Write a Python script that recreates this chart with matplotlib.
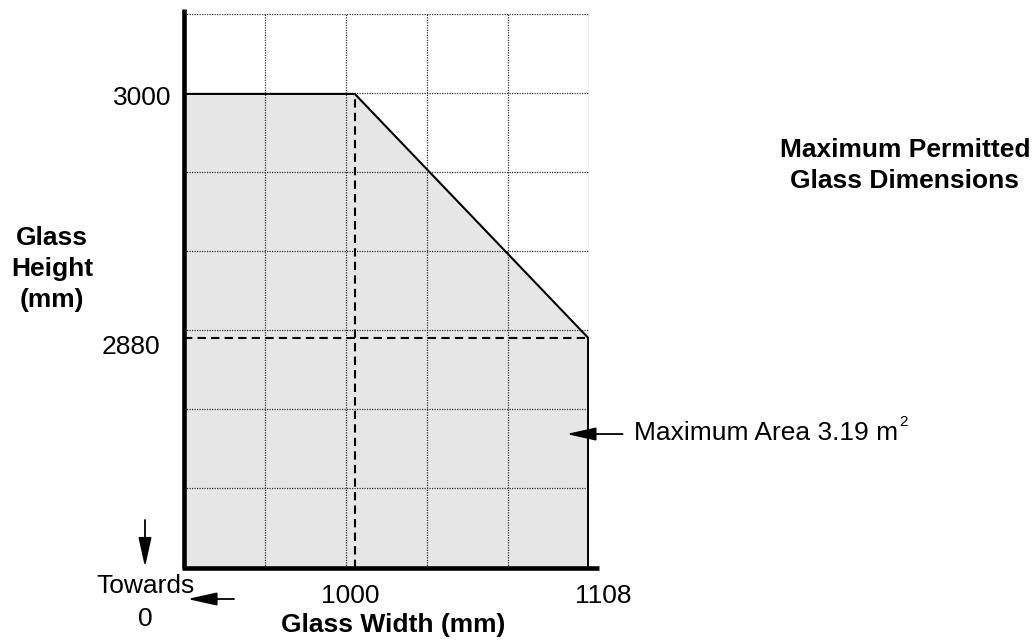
import matplotlib
matplotlib.use("Agg")
import matplotlib.pyplot as plt
from matplotlib.patches import FancyArrowPatch
import numpy as np

plt.rcParams['font.family'] = ['Liberation Sans', 'DejaVu Sans']

# glass size limits (mm)
width_break = 1000      # width where the height starts to drop
width_max = 1108
height_max = 3000
height_at_width_max = 2880
max_area = 3.19         # m2

# visible window of the chart (broken axes, "towards 0")
x_lo, x_hi = 920.9, 1108.2
y_lo, y_hi = 2766.9, 3039.2

W, H = 1035, 641


def px(x, y):
    # figure pixel (from top-left) -> figure fraction
    return x / W, 1 - y / H


fig = plt.figure(figsize=(W / 100, H / 100), dpi=100)
left, top = px(184, 14.3)
right, bottom = px(588.5, 567.5)
ax = fig.add_axes([left, bottom, right - left, top - bottom])
ax.set_xlim(x_lo, x_hi)
ax.set_ylim(y_lo, y_hi)

# grid
ax.set_xticks(np.linspace(x_lo, x_hi, 6))
ax.set_yticks(np.linspace(y_lo, y_hi, 8))
ax.grid(True, color='#333333', lw=0.9, linestyle=(0, (1, 1)))
ax.set_axisbelow(False)
ax.tick_params(length=0, labelbottom=False, labelleft=False)
for s in ax.spines.values():
    s.set_visible(False)

# permitted region
poly_x = [x_lo, x_lo, width_break, width_max, width_max]
poly_y = [y_lo, height_max, height_max, height_at_width_max, y_lo]
ax.fill(poly_x, poly_y, color='#e6e6e6', lw=0, zorder=1)
ax.plot(poly_x[1:], poly_y[1:], color='black', lw=1.5, zorder=4,
        solid_joinstyle='miter')

# dashed guides
ax.plot([width_break, width_break], [y_lo, height_max], color='black',
        lw=1.5, linestyle=(0, (4, 2.5)), zorder=3)
ax.plot([x_lo, width_max], [height_at_width_max, height_at_width_max],
        color='black', lw=1.5, linestyle=(0, (4, 2.5)), zorder=3)

# thick axis lines
ax.plot([0, 0], [0, 1.009], transform=ax.transAxes, color='black', lw=3.3,
        clip_on=False, zorder=5, solid_capstyle='butt')
ax.plot([-0.004, 1.026], [0, 0], transform=ax.transAxes, color='black', lw=3.3,
        clip_on=False, zorder=5, solid_capstyle='butt')

fs = 19
fsb = 19

# value labels
fig.text(*px(171, 105), f'{height_max}', fontsize=fs, ha='right', va='baseline')
fig.text(*px(160, 354), f'{height_at_width_max}', fontsize=fs, ha='right', va='baseline')
fig.text(*px(350.5, 603), f'{width_break}', fontsize=fs, ha='center', va='baseline')
fig.text(*px(603.5, 603), f'{width_max}', fontsize=fs, ha='center', va='baseline')

# axis titles
for i, line in enumerate(['Glass', 'Height', '(mm)']):
    fig.text(*px(52, 245 + 31 * i), line, fontsize=fsb, fontweight='bold',
             ha='center', va='baseline')
fig.text(*px(393, 632), 'Glass Width (mm)', fontsize=fsb, fontweight='bold',
         ha='center', va='baseline')
for i, line in enumerate(['Maximum Permitted', 'Glass Dimensions']):
    fig.text(*px(905, 157 + 31 * i), line, fontsize=fsb, fontweight='bold',
             ha='center', va='baseline')

# towards 0 markers
arrow = dict(arrowstyle='-|>,head_length=1.8,head_width=0.4', color='black',
             lw=1.3, mutation_scale=10, shrinkA=0, shrinkB=0)
fig.text(*px(145.5, 593), 'Towards', fontsize=fs, ha='center', va='baseline')
fig.text(*px(145, 625.5), '0', fontsize=fs, ha='center', va='baseline')
fig.add_artist(FancyArrowPatch(px(145, 520), px(145, 567),
                               transform=fig.transFigure, **arrow))
fig.add_artist(FancyArrowPatch(px(234, 599), px(187.5, 599),
                               transform=fig.transFigure, **arrow))

# maximum area callout
ax.annotate('', xy=(1098.0, 2832.6), xytext=(1124.0, 2832.6),
            arrowprops=arrow, annotation_clip=False)
fig.text(*px(634, 440), f'Maximum Area {max_area} m', fontsize=fs,
         ha='left', va='baseline')
fig.text(*px(899, 426.5), '2', fontsize=11, ha='left', va='baseline')

fig.savefig('out.png', dpi=100)
